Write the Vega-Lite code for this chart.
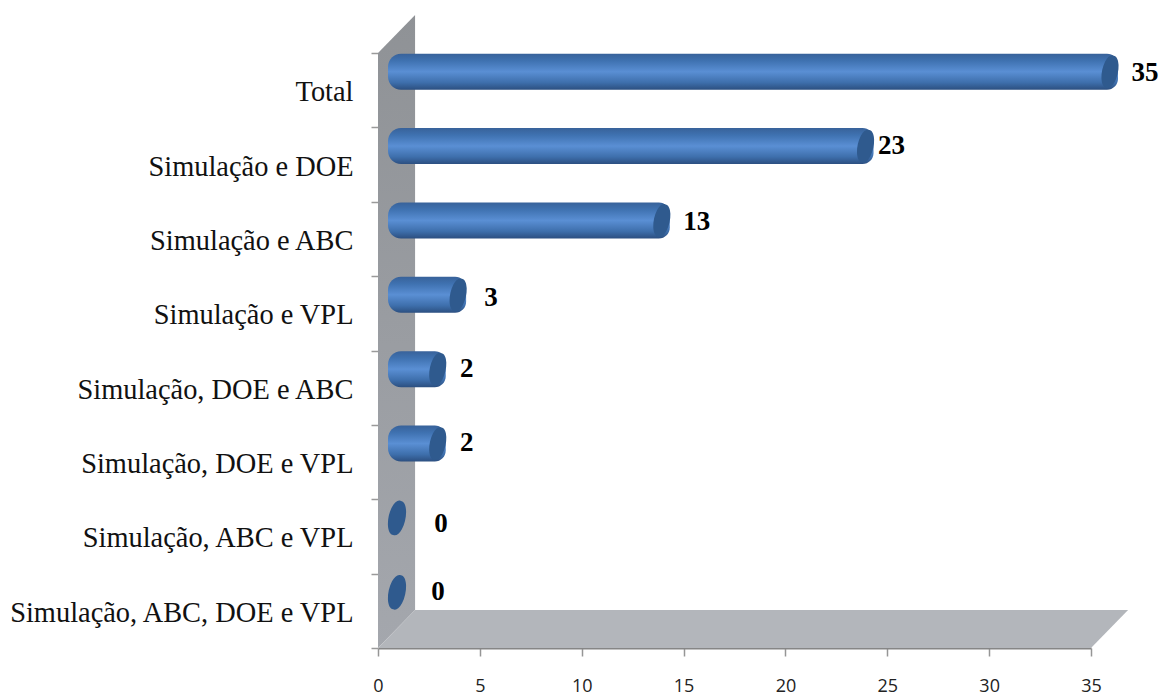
{
"$schema":"https://vega.github.io/schema/vega-lite/v6.json",
"width":713,"height":595,
"autosize":{"type":"none"},
"padding":{"left":378,"top":53,"right":71,"bottom":49},
"background":"#ffffff",
"config":{"view":{"stroke":null},"axis":{"grid":false}},
"datasets":{
"cats":[
{"category":"Total","value":35},
{"category":"Simulação e DOE","value":23},
{"category":"Simulação e ABC","value":13},
{"category":"Simulação e VPL","value":3},
{"category":"Simulação, DOE e ABC","value":2},
{"category":"Simulação, DOE e VPL","value":2},
{"category":"Simulação, ABC e VPL","value":0},
{"category":"Simulação, ABC, DOE e VPL","value":0}
],
"wall":[{"u":0,"lo":0,"hi":8},{"u":1.82,"lo":0.51,"hi":8.51}],
"floor":[{"u":0,"lo":0,"hi":0},{"u":1.82,"lo":0,"hi":0.51},{"u":35,"lo":0,"hi":0.51},{"u":36.82,"lo":0.51,"hi":0.51}]
},
"resolve":{"scale":{"y":"independent"},"axis":{"y":"independent"}},
"layer":[
{"layer":[
{"data":{"name":"wall"},
"mark":{"type":"area","orient":"vertical","clip":false,"color":{"gradient":"linear","x1":0,"y1":0,"x2":0,"y2":1,"stops":[{"offset":0,"color":"#8f9296"},{"offset":1,"color":"#a4a7ad"}]}},
"encoding":{"x":{"field":"u","type":"quantitative","scale":{"domain":[0,35],"nice":false},
"axis":{"values":[0,5,10,15,20,25,30,35],"title":null,"domainColor":"#868686","domainWidth":2,"tickColor":"#969696","tickSize":8,"tickWidth":1.5,"labelFont":"Open Sans","labelFontSize":18,"labelColor":"#222222","labelPadding":21,"labelFlush":false,"labelOverlap":false}},
"y":{"field":"lo","type":"quantitative","scale":{"domain":[0,8],"nice":false,"zero":false},"axis":null},"y2":{"field":"hi"}}},
{"data":{"name":"floor"},
"mark":{"type":"area","orient":"vertical","clip":false,"color":"#b3b6bb"},
"encoding":{"x":{"field":"u","type":"quantitative"},
"y":{"field":"lo","type":"quantitative"},"y2":{"field":"hi"}}}
]},
{"data":{"name":"cats"},
"encoding":{"y":{"field":"category","type":"nominal","sort":null,
"scale":{"domain":["Total","Simulação e DOE","Simulação e ABC","Simulação e VPL","Simulação, DOE e ABC","Simulação, DOE e VPL","Simulação, ABC e VPL","Simulação, ABC, DOE e VPL"],"paddingInner":0,"paddingOuter":0},
"axis":{"title":null,"orient":"left","domain":false,"tickBand":"extent","tickColor":"#9a9a9a","tickSize":7,"tickWidth":1.5,"labelFont":"Liberation Serif","labelFontSize":28.4,"labelColor":"#111111","labelPadding":18,"labelOffset":1.5,"labelLimit":420,"labelOverlap":false}}},
"layer":[
{"transform":[{"filter":"datum.value > 0"}],
"mark":{"type":"bar","size":36,"xOffset":27,"x2Offset":10,"yOffset":-18.5,"clip":false,"cornerRadiusTopLeft":13,"cornerRadiusBottomLeft":13,"cornerRadiusTopRight":11,"cornerRadiusBottomRight":11,
"color":{"gradient":"linear","x1":0,"y1":0,"x2":0,"y2":1,"stops":[{"offset":0,"color":"#38629a"},{"offset":0.2,"color":"#3f72b1"},{"offset":0.5,"color":"#5a8fd4"},{"offset":0.8,"color":"#3e6fac"},{"offset":1,"color":"#2c4f80"}]}},
"encoding":{"x":{"field":"value","type":"quantitative"},"x2":{"datum":0}}},
{"transform":[{"filter":"datum.value > 0"}],
"mark":{"type":"point","filled":true,"opacity":1,"strokeWidth":0,"clip":false,"color":"#2f5a8e","size":1089,"xOffset":19,"yOffset":-18.5,
"shape":"M0.22,-0.97A1,0.44,-78,1,1,-0.22,0.97A1,0.44,-78,1,1,0.22,-0.97Z"},
"encoding":{"x":{"field":"value","type":"quantitative"}}},
{"transform":[{"filter":"datum.value == 0"}],
"mark":{"type":"point","filled":true,"opacity":1,"strokeWidth":0,"clip":false,"color":"#2f5a8e","size":1225,"xOffset":19,"yOffset":-18.5,
"shape":"M0.22,-0.97A1,0.44,-78,1,1,-0.22,0.97A1,0.44,-78,1,1,0.22,-0.97Z"},
"encoding":{"x":{"field":"value","type":"quantitative"}}},
{"transform":[{"filter":"datum.value == 35 || datum.value == 13"}],
"mark":{"type":"text","font":"Liberation Serif","fontWeight":"bold","fontSize":27,"color":"#000000","dx":54,"dy":-17,"align":"center","baseline":"middle"},
"encoding":{"x":{"field":"value","type":"quantitative"},"text":{"field":"value","type":"quantitative"}}},
{"transform":[{"filter":"datum.value == 3"}],
"mark":{"type":"text","font":"Liberation Serif","fontWeight":"bold","fontSize":27,"color":"#000000","dx":52,"dy":-15,"align":"center","baseline":"middle"},
"encoding":{"x":{"field":"value","type":"quantitative"},"text":{"field":"value","type":"quantitative"}}},
{"transform":[{"filter":"datum.value == 23"}],
"mark":{"type":"text","font":"Liberation Serif","fontWeight":"bold","fontSize":27,"color":"#000000","dx":45,"dy":-19,"align":"center","baseline":"middle"},
"encoding":{"x":{"field":"value","type":"quantitative"},"text":{"field":"value","type":"quantitative"}}},
{"transform":[{"filter":"datum.value == 2"}],
"mark":{"type":"text","font":"Liberation Serif","fontWeight":"bold","fontSize":27,"color":"#000000","dx":48,"dy":-19,"align":"center","baseline":"middle"},
"encoding":{"x":{"field":"value","type":"quantitative"},"text":{"field":"value","type":"quantitative"}}},
{"transform":[{"filter":"datum.category == 'Simulação, ABC e VPL'"}],
"mark":{"type":"text","font":"Liberation Serif","fontWeight":"bold","fontSize":27,"color":"#000000","dx":63,"dy":-12,"align":"center","baseline":"middle"},
"encoding":{"x":{"field":"value","type":"quantitative"},"text":{"field":"value","type":"quantitative"}}},
{"transform":[{"filter":"datum.category == 'Simulação, ABC, DOE e VPL'"}],
"mark":{"type":"text","font":"Liberation Serif","fontWeight":"bold","fontSize":27,"color":"#000000","dx":60,"dy":-19,"align":"center","baseline":"middle"},
"encoding":{"x":{"field":"value","type":"quantitative"},"text":{"field":"value","type":"quantitative"}}}
]}
]
}
